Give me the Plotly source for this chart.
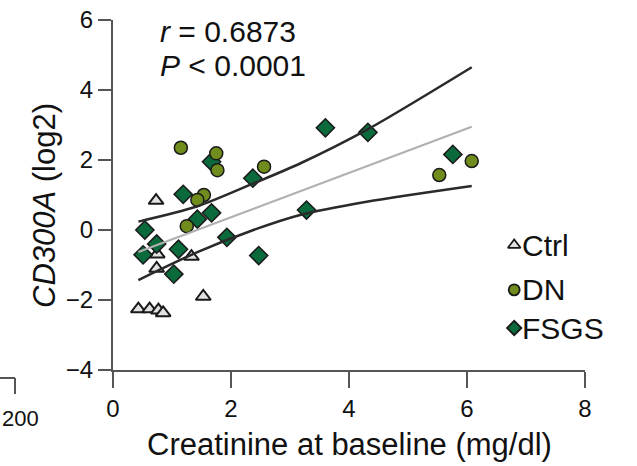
import plotly.graph_objects as go

# ---- data ----
ctrl_x = [0.73, 0.75, 1.33, 0.74, 1.53, 0.43, 0.62, 0.77, 0.85]
ctrl_y = [0.84, -0.69, -0.76, -1.10, -1.90, -2.26, -2.26, -2.29, -2.37]

dn_x = [1.15, 1.75, 1.77, 2.56, 1.54, 1.43, 1.25, 6.08, 5.53]
dn_y = [2.35, 2.19, 1.71, 1.81, 1.00, 0.86, 0.11, 1.97, 1.57]

fsgs_x = [3.60, 1.67, 2.37, 1.19, 1.67, 1.43, 0.54, 3.28, 1.93, 0.74, 1.11, 0.51, 2.47, 1.03, 4.32, 5.76]
fsgs_y = [2.92, 1.95, 1.48, 1.02, 0.49, 0.31, 0.00, 0.57, -0.21, -0.40, -0.55, -0.71, -0.73, -1.26, 2.79, 2.16]

# regression line and 95% confidence band
fit_x = [0.43, 6.08]
fit_y = [-0.63, 2.95]
band_x = [0.43, 1.42, 2.38, 3.17, 4.30, 6.08]
band_upper = [0.24, 0.67, 1.33, 1.90, 2.86, 4.65]
band_lower = [-1.43, -0.64, 0.00, 0.43, 0.81, 1.26]

group_names = ["Ctrl", "DN", "FSGS"]
x_ticks = [0, 2, 4, 6, 8]
y_ticks = [-4, -2, 0, 2, 4, 6]
r_text = "0.6873"
p_text = "0.0001"
x_title = "Creatinine at baseline (mg/dl)"
y_title = "<i>CD300A</i> (log2)"
side_label = "200"

FONT = "Arial, Liberation Sans, sans-serif"
DN_COL = "#6f8c1c"
FSGS_COL = "#0b6a3c"
CTRL_COL = "#e2e2e2"
EDGE = "#1a1a1a"

fig = go.Figure()

styles = {
    "Ctrl": dict(symbol="triangle-up", color=CTRL_COL, size=13, lw=2),
    "FSGS": dict(symbol="diamond", color=FSGS_COL, size=14, lw=1.5),
    "DN": dict(symbol="circle", color=DN_COL, size=13, lw=1.5),
}
data = {"Ctrl": (ctrl_x, ctrl_y), "DN": (dn_x, dn_y), "FSGS": (fsgs_x, fsgs_y)}

for name in ["Ctrl", "FSGS", "DN"]:
    st = styles[name]
    fig.add_trace(go.Scatter(
        x=data[name][0], y=data[name][1], mode="markers", name=name, showlegend=False,
        marker=dict(symbol=st["symbol"], size=st["size"], color=st["color"],
                    line=dict(color=EDGE, width=st["lw"])),
        cliponaxis=False))

fig.add_trace(go.Scatter(x=fit_x, y=fit_y, mode="lines", line=dict(color="#b0b0b0", width=2),
                         showlegend=False, hoverinfo="skip"))
fig.add_trace(go.Scatter(x=band_x, y=band_upper, mode="lines",
                         line=dict(color="#2a2a2a", width=2.5, shape="spline", smoothing=0.8),
                         showlegend=False, hoverinfo="skip"))
fig.add_trace(go.Scatter(x=band_x, y=band_lower, mode="lines",
                         line=dict(color="#2a2a2a", width=2.5, shape="spline", smoothing=0.8),
                         showlegend=False, hoverinfo="skip"))

# manual legend inside the plot
leg_marker_x = 6.80
leg_text_x = 6.90
leg_y = [-0.43, -1.71, -2.80]
for i, name in enumerate(group_names):
    st = styles[name]
    fig.add_trace(go.Scatter(
        x=[leg_marker_x], y=[leg_y[i]], mode="markers", showlegend=False, hoverinfo="skip",
        marker=dict(symbol=st["symbol"], size=11, color=st["color"],
                    line=dict(color=EDGE, width=1.8)), cliponaxis=False))
    fig.add_annotation(x=leg_text_x, y=leg_y[i], xref="x", yref="y", text=name,
                       showarrow=False, xanchor="left", yanchor="middle",
                       font=dict(family=FONT, size=30, color="#111"))

W, H = 637, 466
L, R, T, B = 113, 52, 20, 96
pw, ph = W - L - R, H - T - B


def px(xp):
    return (xp - L) / pw


def py(yp):
    return (H - B - yp) / ph


fig.add_annotation(x=px(158), y=py(32), xref="paper", yref="paper",
                   text="<i>r</i> = " + r_text, showarrow=False, xanchor="left", yanchor="middle",
                   font=dict(family=FONT, size=30, color="#111"))
fig.add_annotation(x=px(158), y=py(65), xref="paper", yref="paper",
                   text="<i>P</i> &lt; " + p_text, showarrow=False, xanchor="left", yanchor="middle",
                   font=dict(family=FONT, size=30, color="#111"))
fig.add_annotation(x=px(349), y=py(444), xref="paper", yref="paper", text=x_title,
                   showarrow=False, xanchor="center", yanchor="middle",
                   font=dict(family=FONT, size=31, color="#111"))
fig.add_annotation(x=px(45), y=py(206), xref="paper", yref="paper", text=y_title,
                   showarrow=False, xanchor="center", yanchor="middle", textangle=-90,
                   font=dict(family=FONT, size=31, color="#111"))
fig.add_annotation(x=px(0), y=py(418), xref="paper", yref="paper", text=side_label,
                   showarrow=False, xanchor="left", yanchor="middle",
                   font=dict(family=FONT, size=22, color="#111"))
fig.add_shape(type="line", xref="paper", yref="paper", x0=px(-2), x1=px(15), y0=py(378), y1=py(378),
              line=dict(color="#555", width=2))
fig.add_shape(type="line", xref="paper", yref="paper", x0=px(15), x1=px(15), y0=py(378), y1=py(394),
              line=dict(color="#555", width=2))

fig.update_layout(
    width=W, height=H,
    margin=dict(l=L, r=R, t=T, b=B, autoexpand=False),
    paper_bgcolor="white", plot_bgcolor="white",
    font=dict(family=FONT, size=24, color="#111"),
    xaxis=dict(range=[0, 8], tickvals=x_ticks, ticks="outside", ticklen=16, tickwidth=2,
               tickcolor="#555", showline=True, linecolor="#555", linewidth=2,
               showgrid=False, zeroline=False, tickfont=dict(size=24), fixedrange=True,
               automargin=False),
    yaxis=dict(range=[-4, 6], tickvals=y_ticks, ticks="outside", ticklen=13, tickwidth=2,
               tickcolor="#555", showline=True, linecolor="#555", linewidth=2,
               showgrid=False, zeroline=False, tickfont=dict(size=24), fixedrange=True,
               automargin=False),
    showlegend=False,
)

fig.write_html("out.html", config={"displayModeBar": False},
               post_script="document.body.style.margin='0';document.body.style.overflow='hidden';")
